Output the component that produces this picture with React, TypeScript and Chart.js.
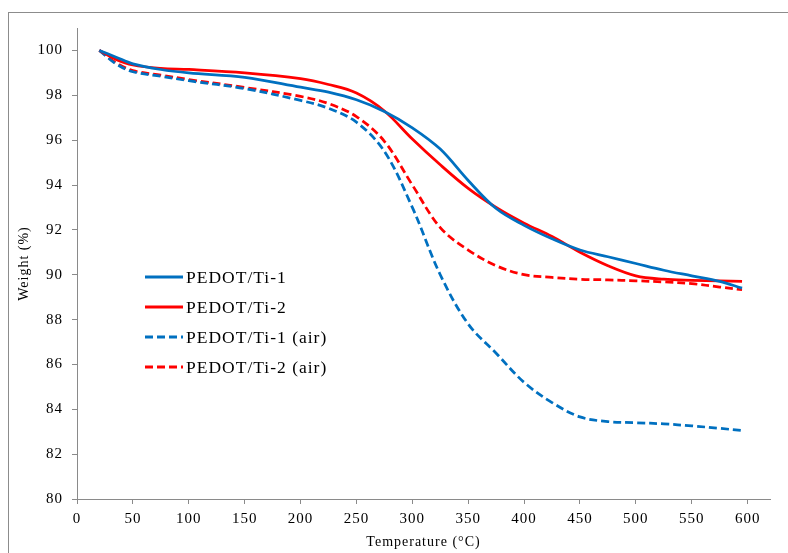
import React, { useEffect, useRef } from "react";
import { Chart, registerables } from "chart.js";

Chart.register(...registerables);

// Temperature (°C) sample points shared by all series
const temperatures = [20, 35, 50, 75, 100, 150, 200, 225, 250, 275, 300, 325, 350, 375, 400, 425, 450, 475, 500, 525, 550, 575, 595];

// Weight (%) per series
const ti1 = [100, 99.7, 99.4, 99.15, 99.0, 98.8, 98.36, 98.14, 97.8, 97.28, 96.55, 95.6, 94.2, 92.95, 92.2, 91.6, 91.1, 90.8, 90.5, 90.2, 89.95, 89.7, 89.4];
const ti2 = [100, 99.6, 99.35, 99.2, 99.15, 99.0, 98.74, 98.48, 98.1, 97.3, 96.05, 94.9, 93.85, 93.0, 92.3, 91.7, 91.0, 90.4, 89.95, 89.8, 89.75, 89.72, 89.7];
const ti1Air = [100, 99.4, 99.05, 98.85, 98.65, 98.3, 97.77, 97.42, 96.8, 95.5, 93.0, 90.0, 87.8, 86.5, 85.2, 84.3, 83.66, 83.45, 83.4, 83.35, 83.26, 83.15, 83.05];
const ti2Air = [100, 99.45, 99.1, 98.9, 98.7, 98.35, 97.95, 97.63, 97.05, 95.95, 94.0, 92.1, 91.1, 90.4, 90.0, 89.88, 89.8, 89.77, 89.73, 89.68, 89.6, 89.45, 89.33];

const seriesLabels = ["PEDOT/Ti-1", "PEDOT/Ti-2", "PEDOT/Ti-1 (air)", "PEDOT/Ti-2 (air)"];
const seriesValues = [ti1, ti2, ti1Air, ti2Air];
const seriesColors = ["#0070C0", "#FF0000", "#0070C0", "#FF0000"];
const seriesDashed = [false, false, true, true];

// Tick labels
const xTickValues = [0, 50, 100, 150, 200, 250, 300, 350, 400, 450, 500, 550, 600];
const yTickValues = [80, 82, 84, 86, 88, 90, 92, 94, 96, 98, 100];

const xTitle = "Temperature (°C)";
const yTitle = "Weight (%)";

const FONT = "'Liberation Serif', 'Times New Roman', serif";
const AXIS_COLOR = "#8a8a8a";
const DASH = [8, 4];

const spacingPlugin = {
  id: "letterSpacing",
  beforeLayout(chart: any) {
    (chart.ctx as any).letterSpacing = "1px";
  },
  beforeDraw(chart: any) {
    (chart.ctx as any).letterSpacing = "1px";
  },
};

const legendPlugin = {
  id: "insideLegend",
  afterDatasetsDraw(chart: any) {
    const ctx = chart.ctx;
    const area = chart.chartArea;
    const x0 = area.left + 68;
    const y0 = area.top + 249;
    ctx.save();
    (ctx as any).letterSpacing = "1px";
    chart.data.datasets.forEach((ds: any, i: number) => {
      const y = y0 + i * 30;
      ctx.beginPath();
      ctx.strokeStyle = ds.borderColor;
      ctx.lineWidth = 3;
      ctx.setLineDash(ds.borderDash || []);
      ctx.moveTo(x0, y);
      ctx.lineTo(x0 + 38, y);
      ctx.stroke();
      ctx.setLineDash([]);
      ctx.fillStyle = "#000";
      ctx.font = `17.5px ${FONT}`;
      ctx.textBaseline = "middle";
      ctx.textAlign = "left";
      ctx.fillText(ds.label, x0 + 41, y + 1);
    });
    ctx.restore();
  },
};

export default function App() {
  const canvasRef = useRef<HTMLCanvasElement | null>(null);

  useEffect(() => {
    if (!canvasRef.current) return;
    const datasets = seriesLabels.map((label, i) => ({
      label,
      data: temperatures.map((t, j) => ({ x: t, y: seriesValues[i][j] })),
      borderColor: seriesColors[i],
      backgroundColor: seriesColors[i],
      borderWidth: 2.75,
      borderDash: seriesDashed[i] ? DASH : [],
      pointRadius: 0,
      tension: 0.35,
      fill: false,
    }));

    const chart = new Chart(canvasRef.current, {
      type: "line",
      data: { datasets },
      plugins: [spacingPlugin, legendPlugin],
      options: {
        animation: false,
        responsive: false,
        maintainAspectRatio: false,
        events: [],
        layout: { padding: { top: 28, right: 18, bottom: 0, left: 0 } },
        plugins: {
          legend: { display: false },
          tooltip: { enabled: false },
          title: { display: false },
        },
        scales: {
          x: {
            type: "linear",
            min: 0,
            max: 620,
            afterBuildTicks: (scale: any) => {
              scale.ticks = xTickValues.map((v) => ({ value: v }));
            },
            afterFit: (scale: any) => {
              scale.height = 54;
            },
            ticks: {
              color: "#000",
              padding: 6,
              maxRotation: 0,
              autoSkip: false,
              font: { family: FONT, size: 15 },
            },
            grid: {
              drawOnChartArea: false,
              drawTicks: true,
              tickLength: 5,
              color: AXIS_COLOR,
            },
            border: { display: true, color: AXIS_COLOR, width: 1 },
            title: {
              display: true,
              text: xTitle,
              color: "#000",
              font: { family: FONT, size: 14 },
              padding: { top: 0, bottom: 2 },
            },
          },
          y: {
            type: "linear",
            min: 80,
            max: 101,
            afterBuildTicks: (scale: any) => {
              scale.ticks = yTickValues.map((v) => ({ value: v }));
            },
            afterFit: (scale: any) => {
              scale.width = 77;
            },
            ticks: {
              color: "#000",
              padding: 9,
              autoSkip: false,
              font: { family: FONT, size: 15 },
            },
            grid: {
              drawOnChartArea: false,
              drawTicks: true,
              tickLength: 5,
              color: AXIS_COLOR,
            },
            border: { display: true, color: AXIS_COLOR, width: 1 },
            title: {
              display: true,
              text: yTitle,
              color: "#000",
              font: { family: FONT, size: 14 },
              padding: { top: 16, bottom: 0 },
            },
          },
        },
      },
    });
    return () => chart.destroy();
  }, []);

  return (
    <div
      style={{
        position: "fixed",
        left: 0,
        top: 0,
        width: 788,
        height: 553,
        overflow: "hidden",
        background: "#fff",
      }}
    >
      <div
        style={{
          position: "absolute",
          left: 8,
          top: 12,
          width: 820,
          height: 600,
          border: "1px solid #8c8c8c",
        }}
      />
      <canvas
        ref={canvasRef}
        width={788}
        height={553}
        style={{ position: "absolute", left: 0, top: 0, width: 788, height: 553 }}
      />
    </div>
  );
}
